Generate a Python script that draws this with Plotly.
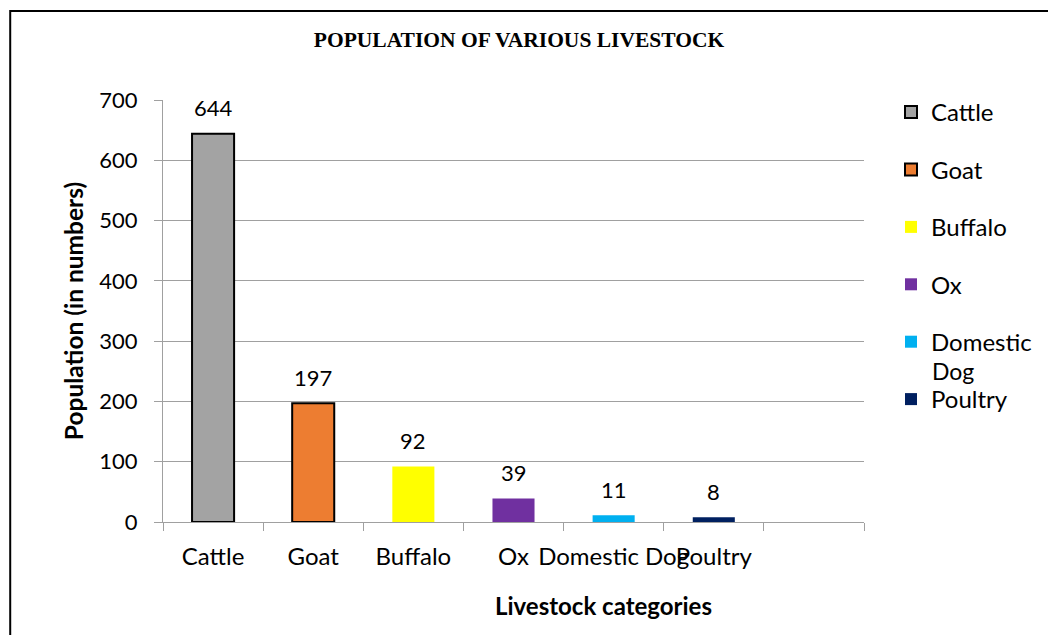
import plotly.graph_objects as go

# Livestock counts
categories = ["Cattle", "Goat", "Buffalo", "Ox", "Domestic Dog", "Poultry"]
legend_names = ["Cattle", "Goat", "Buffalo", "Ox", "Domestic", "Poultry"]
population = [644, 197, 92, 39, 11, 8]
colors = ["#A3A3A3", "#ED7D31", "#FFFF00", "#7030A0", "#00B0F0", "#002060"]
outlined = [True, True, False, False, False, False]
y_ticks = [0, 100, 200, 300, 400, 500, 600, 700]

# an extra empty slot after the last category
axis_categories = categories + [" "]

W, H = 1048, 635
L, R, T, B = 163, 183, 100, 113
PW, PH = W - L - R, H - T - B

FONT = "Lato"

fig = go.Figure()
for cat, name, val, col, edge in zip(categories, legend_names, population, colors, outlined):
    fig.add_trace(go.Bar(
        x=[cat], y=[val], name=name, legendgroup=cat,
        width=0.42,
        marker=dict(color=col,
                    line=dict(color="#000000", width=2 if edge else 0)),
    ))

# value labels above bars
for cat, val in zip(categories, population):
    fig.add_annotation(x=cat, y=val, text=str(val), showarrow=False,
                       yanchor="middle", yshift=26,
                       font=dict(family=FONT, size=22, color="#000000"))

# wrapped second line of the "Domestic Dog" legend entry
fig.add_annotation(xref="paper", yref="paper",
                   x=(931 - L) / PW, y=(H - B - 371) / PH,
                   text="Dog", showarrow=False, xanchor="left", yanchor="middle",
                   font=dict(family=FONT, size=23, color="#000000"))

# x-axis title
fig.add_annotation(xref="paper", yref="paper",
                   x=(604 - L) / PW, y=(H - B - 605) / PH,
                   text="Livestock categories", showarrow=False,
                   xanchor="center", yanchor="middle",
                   font=dict(family=FONT, size=24, color="#000000", weight="bold"))

# chart frame
fig.add_shape(type="rect", xref="paper", yref="paper",
              x0=(10 - L) / PW, x1=(1070 - L) / PW,
              y0=(H - B - 660) / PH, y1=(H - B - 11) / PH,
              line=dict(color="#000000", width=2), fillcolor="rgba(0,0,0,0)")

fig.update_layout(
    width=W, height=H,
    margin=dict(l=L, r=R, t=T, b=B),
    paper_bgcolor="#FFFFFF", plot_bgcolor="#FFFFFF",
    barmode="overlay",
    title=dict(text="POPULATION OF VARIOUS LIVESTOCK",
               x=519 / W, xanchor="center", xref="container",
               y=1 - 39 / H, yanchor="middle", yref="container",
               font=dict(family="Liberation Serif", size=21.5, color="#000000", weight="bold")),
    legend=dict(x=(891 - L) / PW, xanchor="left", y=(H - B - 90) / PH, yanchor="top",
                font=dict(family=FONT, size=24, color="#000000"),
                tracegroupgap=23.2, valign="middle", bgcolor="rgba(0,0,0,0)",
                maxheight=600),
    xaxis=dict(type="category", categoryorder="array", categoryarray=axis_categories,
               range=[-0.5, 6.5], tickson="boundaries", tickangle=0,
               ticks="outside", ticklen=8, tickcolor="#A0A0A0",
               showline=True, linecolor="#A0A0A0", linewidth=1,
               showgrid=False, ticklabelstandoff=13,
               tickfont=dict(family=FONT, size=24, color="#000000")),
    yaxis=dict(range=[0, 700], tickvals=y_ticks,
               ticks="outside", ticklen=8, tickcolor="#A0A0A0",
               showline=True, linecolor="#A0A0A0", linewidth=1,
               showgrid=True, gridcolor="#A0A0A0", gridwidth=1,
               zeroline=False, ticklabelstandoff=12,
               tickfont=dict(family=FONT, size=22, color="#000000"),
               title=dict(text="Population (in numbers)", standoff=8,
                          font=dict(family=FONT, size=24.5, color="#000000", weight="bold"))),
)

fig.write_html("out.html")
